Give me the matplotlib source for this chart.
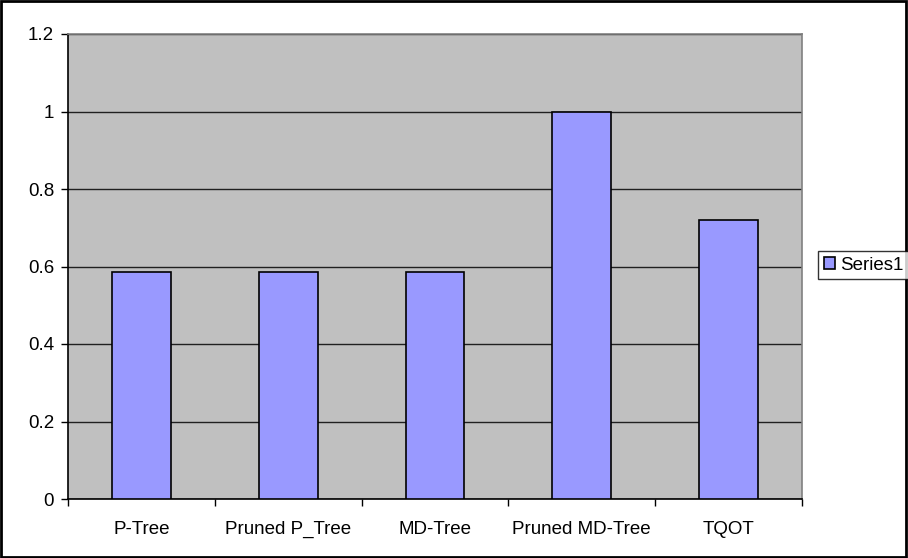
import matplotlib.pyplot as plt
from matplotlib.patches import Rectangle

plt.rcParams['font.family'] = ['Liberation Sans', 'DejaVu Sans']

categories = ['P-Tree', 'Pruned P_Tree', 'MD-Tree', 'Pruned MD-Tree', 'TQOT']
values = [0.586, 0.586, 0.586, 1.0, 0.72]
y_ticks = [0, 0.2, 0.4, 0.6, 0.8, 1, 1.2]
y_labels = ['0', '0.2', '0.4', '0.6', '0.8', '1', '1.2']

W, H = 908, 558
fig = plt.figure(figsize=(W / 100, H / 100), dpi=100)
ax = fig.add_axes([68 / W, 1 - 499 / H, (802 - 68) / W, (499 - 34) / H])
ax.set_facecolor('#C0C0C0')

x = list(range(len(categories)))
ax.bar(x, values, width=0.4, color='#9999FF', edgecolor='black', linewidth=1.2,
       label='Series1', zorder=3)

ax.set_xlim(-0.5, len(categories) - 0.5)
ax.set_ylim(0, 1.2)
ax.set_yticks(y_ticks)
ax.set_yticklabels(y_labels)
ax.yaxis.grid(True, color='#202020', linewidth=1, zorder=1)
ax.set_axisbelow(True)

# category labels centred, ticks at category boundaries
ax.set_xticks(x)
ax.set_xticklabels(categories)
ax.tick_params(axis='x', which='major', length=0, pad=16, labelsize=13.5)
ax.set_xticks([i - 0.5 for i in range(len(categories) + 1)], minor=True)
ax.tick_params(axis='x', which='minor', length=5, width=1, direction='out')
ax.tick_params(axis='y', length=5, width=1, pad=5, labelsize=13.5)

for side in ('left', 'bottom'):
    ax.spines[side].set_color('black')
    ax.spines[side].set_linewidth(1.2)
for side in ('top', 'right'):
    ax.spines[side].set_color('#808080')
    ax.spines[side].set_linewidth(1.2)

leg = fig.legend(loc='upper left', bbox_to_anchor=(818 / W, 1 - 251 / H),
                 fontsize=13.5, frameon=True, fancybox=False, borderpad=0.3,
                 handlelength=0.6, handleheight=0.6, handletextpad=0.3,
                 borderaxespad=0)
leg.get_frame().set_edgecolor('black')
leg.get_frame().set_linewidth(1)

# outer chart border
fig.patches.append(Rectangle((0.001, 0.002), 0.997, 0.996, transform=fig.transFigure,
                             fill=False, edgecolor='black', linewidth=2))

fig.savefig('out.png', dpi=100)
